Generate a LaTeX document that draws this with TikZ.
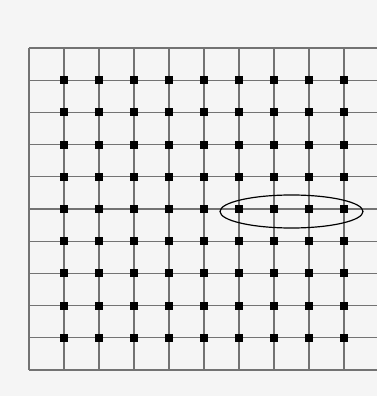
\documentclass[tikz,border=0pt]{standalone}
\usetikzlibrary{shapes.geometric}
\begin{document}
\begin{tikzpicture}[x=0.25mm, y=-0.25mm,
  gridline/.style={draw=black!55, line width=0.3mm},
  dot/.style={rectangle, fill=black, inner sep=0pt, minimum size=2mm},
  ring/.style={ellipse, draw=black, line width=0.3mm, minimum width=143*0.25mm, minimum height=33*0.25mm, inner sep=0pt}]
\useasboundingbox[fill=black!4] (0,0) rectangle (377,396);
% grid
\foreach \i in {0,...,9}
  \draw[gridline] (29+35*\i,48) -- (29+35*\i,370);
\foreach \j in {0,...,10}
  \draw[gridline] (29,48+32.2*\j) -- (377,48+32.2*\j);
% dots
\foreach \i in {1,...,9}
  \foreach \j in {1,...,9}
    \node[dot] (d\i-\j) at (29+35*\i,48+32.2*\j) {};
% selected row
\node[ring] (sel) at (291.5,211.5) {};
\end{tikzpicture}
\end{document}
